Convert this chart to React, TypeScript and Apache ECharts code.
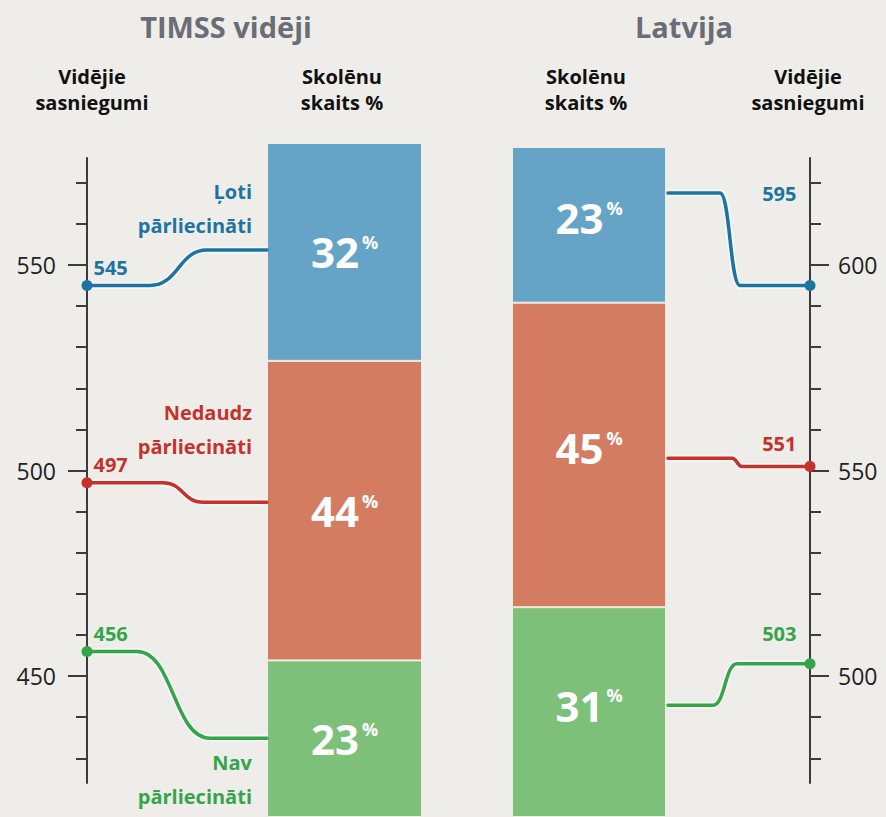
import React, { useEffect, useRef } from "react";
import * as echarts from "echarts";

// ---------- data ----------
const panels = ["TIMSS vidēji", "Latvija"];
const categoryLabels = ["Ļoti\npārliecināti", "Nedaudz\npārliecināti", "Nav\npārliecināti"];
const headerScore = ["Vidējie", "sasniegumi"];
const headerShare = ["Skolēnu", "skaits %"];
const timssShare = [32, 44, 23];
const latviaShare = [23, 45, 31];
const timssScore = [545, 497, 456];
const latviaScore = [595, 551, 503];
// score level at which each connector meets its bar
const timssLink = [553.6, 492.3, 434.9];
const latviaLink = [617.5, 553.0, 492.9];
const leftMajor = [450, 500, 550];
const leftMinor = [430, 440, 460, 470, 480, 490, 510, 520, 530, 540, 560, 570];
const rightMajor = [500, 550, 600];
const rightMinor = [480, 490, 510, 520, 530, 540, 560, 570, 580, 590, 610, 620];

// ---------- style / layout ----------
const FONT = '"Open Sans", "DejaVu Sans", sans-serif';
const BG = "#efede9";
const AXIS = "#3b3b3b";
const lineColors = ["#1c74a3", "#c3322c", "#35a54c"];
const barColors = ["#65a3c7", "#d47c61", "#7cc07a"];
const X_AXIS_L = 87;
const X_AXIS_R = 810;
const X_BAR_L = 267;
const X_BAR_R = 668;
const leftCurves = [[150, 207], [163, 203], [137, 210]];
const rightCurves = [[720, 740], [732, 742], [713, 737]];
const rightLabelOffsets = [-92, -23, -30];

function connector(fromX: number, toX: number, curves: number[][], lvlFirst: boolean) {
  return (params: any, api: any) => {
    const i = params.dataIndex;
    const score = api.value(0);
    const link = api.value(1);
    const yStart = lvlFirst ? score : link;
    const yEnd = lvlFirst ? link : score;
    const p0 = api.coord([fromX, yStart]);
    const pa = api.coord([curves[i][0], yStart]);
    const pb = api.coord([curves[i][1], yEnd]);
    const p1 = api.coord([toX, yEnd]);
    const xm = (pa[0] + pb[0]) / 2;
    const d = `M${p0[0]} ${p0[1]} L${pa[0]} ${pa[1]} C${xm} ${pa[1]} ${xm} ${pb[1]} ${pb[0]} ${pb[1]} L${p1[0]} ${p1[1]}`;
    return {
      type: "group",
      children: [
        { type: "path", shape: { pathData: d }, style: { stroke: "rgba(255,255,255,0.55)", lineWidth: 7, fill: "none" } },
        { type: "path", shape: { pathData: d }, style: { stroke: lineColors[i], lineWidth: 3.5, fill: "none", lineCap: "round" } },
      ],
    };
  };
}

function barSeries(shares: number[], xIdx: number, yIdx: number, stack: string, offsetY: number) {
  return shares.map((v, i) => ({
    type: "bar",
    xAxisIndex: xIdx,
    yAxisIndex: yIdx,
    stack,
    barWidth: "100%",
    data: [v],
    itemStyle: { color: barColors[i], borderColor: "#f2ebe2", borderWidth: 1 },
    label: {
      show: true,
      position: "inside",
      offset: [0, offsetY],
      formatter: (p: any) => `{n|${p.value}}{p|%}`,
      rich: {
        n: { fontSize: 42, fontWeight: "bold", color: "#ffffff", fontFamily: FONT, lineHeight: 46 },
        p: { fontSize: 18, fontWeight: "bold", color: "#ffffff", fontFamily: FONT, lineHeight: 22, verticalAlign: "top", padding: [4, 0, 0, 3] },
      },
    },
  }));
}

function tickAxis(position: string, min: number, max: number, values: number[], major: boolean, margin: number) {
  return {
    type: "value",
    gridIndex: 0,
    position,
    min,
    max,
    splitLine: { show: false },
    axisLine: { show: major, lineStyle: { color: AXIS, width: 2 } },
    axisTick: { show: true, length: major ? 19 : 11, customValues: values, lineStyle: { color: AXIS, width: 2 } },
    axisLabel: major
      ? { show: true, customValues: values, margin, fontSize: 23, color: "#222222", fontFamily: FONT }
      : { show: false },
  };
}

function headerTexts(x: number, lines: string[]) {
  return lines.map((t, k) => ({
    type: "text",
    x,
    y: 76 + k * 26,
    style: { text: t, fill: "#111111", font: `bold 20px ${FONT}`, textAlign: "center", textVerticalAlign: "middle" },
  }));
}

export default function App() {
  const ref = useRef<HTMLDivElement>(null);
  useEffect(() => {
    if (!ref.current) return;
    const chart = echarts.init(ref.current, undefined, { renderer: "svg" });
    const dotLabel = {
      show: true,
      fontSize: 20,
      fontWeight: "bold",
      fontFamily: FONT,
      textBorderWidth: 0,
      formatter: (p: any) => String(p.value[1]),
    };
    const option: any = {
      animation: false,
      backgroundColor: BG,
      grid: [
        { left: X_AXIS_L, top: 158, width: X_AXIS_R - X_AXIS_L, height: 625 },
        { left: 267, top: 143, width: 155, height: 677 },
        { left: 512, top: 147, width: 154, height: 677 },
      ],
      xAxis: [
        { type: "value", gridIndex: 0, min: X_AXIS_L, max: X_AXIS_R, show: false },
        { type: "category", gridIndex: 1, data: [panels[0]], show: false },
        { type: "category", gridIndex: 2, data: [panels[1]], show: false },
      ],
      yAxis: [
        tickAxis("left", 424, 576, leftMajor, true, 31),
        tickAxis("left", 424, 576, leftMinor, false, 0),
        tickAxis("right", 474, 626, rightMajor, true, 28),
        tickAxis("right", 474, 626, rightMinor, false, 0),
        { type: "value", gridIndex: 1, min: 0, max: 99, inverse: true, show: false },
        { type: "value", gridIndex: 2, min: 0, max: 99, inverse: true, show: false },
      ],
      series: [
        ...barSeries(timssShare, 1, 4, "timss", 0),
        ...barSeries(latviaShare, 2, 5, "latvia", -7),
        {
          type: "custom",
          xAxisIndex: 0,
          yAxisIndex: 0,
          clip: false,
          data: timssScore.map((s, i) => [s, timssLink[i]]),
          renderItem: connector(X_AXIS_L, X_BAR_L, leftCurves, true),
          z: 3,
        },
        {
          type: "custom",
          xAxisIndex: 0,
          yAxisIndex: 2,
          clip: false,
          data: latviaScore.map((s, i) => [s, latviaLink[i]]),
          renderItem: connector(X_BAR_R, X_AXIS_R, rightCurves, false),
          z: 3,
        },
        {
          type: "scatter",
          xAxisIndex: 0,
          yAxisIndex: 0,
          clip: false,
          symbolSize: 11,
          z: 4,
          itemStyle: { opacity: 1 },
          data: timssScore.map((s, i) => ({
            value: [X_AXIS_L, s],
            itemStyle: { color: lineColors[i], opacity: 1 },
            label: { color: lineColors[i] },
          })),
          label: { ...dotLabel, position: "right", distance: 1, offset: [0, -18] },
        },
        {
          type: "scatter",
          xAxisIndex: 0,
          yAxisIndex: 2,
          clip: false,
          symbolSize: 11,
          z: 4,
          itemStyle: { opacity: 1 },
          data: latviaScore.map((s, i) => ({
            value: [X_AXIS_R, s],
            itemStyle: { color: lineColors[i], opacity: 1 },
            label: { color: lineColors[i], offset: [0, rightLabelOffsets[i]] },
          })),
          label: { ...dotLabel, position: "left", distance: 8 },
        },
      ],
      graphic: [
        { type: "text", x: 226, y: 26, style: { text: panels[0], fill: "#6b6d76", font: `bold 29px ${FONT}`, textAlign: "center", textVerticalAlign: "middle" } },
        { type: "text", x: 684, y: 26, style: { text: panels[1], fill: "#6b6d76", font: `bold 29px ${FONT}`, textAlign: "center", textVerticalAlign: "middle" } },
        ...headerTexts(92, headerScore),
        ...headerTexts(342, headerShare),
        ...headerTexts(586, headerShare),
        ...headerTexts(808, headerScore),
        { type: "text", x: 252, y: 208, style: { text: categoryLabels[0], fill: lineColors[0], font: `bold 20px ${FONT}`, lineHeight: 34, textAlign: "right", textVerticalAlign: "middle" } },
        { type: "text", x: 252, y: 429, style: { text: categoryLabels[1], fill: lineColors[1], font: `bold 20px ${FONT}`, lineHeight: 34, textAlign: "right", textVerticalAlign: "middle" } },
        { type: "text", x: 252, y: 779, style: { text: categoryLabels[2], fill: lineColors[2], font: `bold 20px ${FONT}`, lineHeight: 34, textAlign: "right", textVerticalAlign: "middle" } },
      ],
    };
    chart.setOption(option);
    return () => chart.dispose();
  }, []);
  return <div ref={ref} style={{ position: "fixed", left: 0, top: 0, width: 886, height: 817 }} />;
}
